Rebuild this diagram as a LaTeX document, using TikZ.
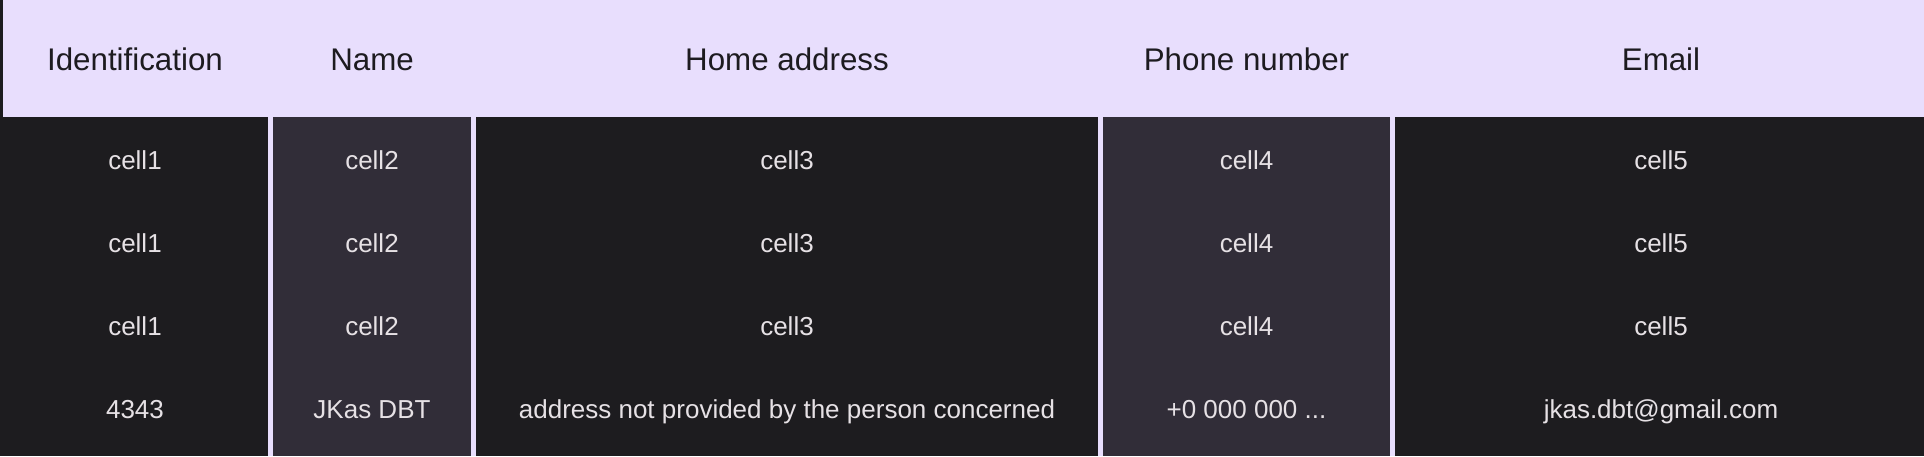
\documentclass[tikz,border=0pt]{standalone}
\usepackage{fontspec}
\setmainfont{Liberation Sans}
\definecolor{lav}{HTML}{E8DEFD}
\definecolor{darkbg}{HTML}{1D1C1F}
\definecolor{colalt}{HTML}{312D38}
\definecolor{headtxt}{HTML}{1D1B20}
\definecolor{bodytxt}{HTML}{E6E1E5}
\tikzset{
  headcell/.style={anchor=base, inner sep=0pt, text=headtxt, font=\fontsize{31.3}{36}\selectfont},
  bodycell/.style={anchor=base, inner sep=0pt, text=bodytxt, font=\fontsize{26}{30}\selectfont},
}
\begin{document}
\begin{tikzpicture}[x=1pt,y=-1pt]
\useasboundingbox (0,0) rectangle (1924,456);
% background
\fill[lav] (0,0) rectangle (1924,456);
\fill[darkbg] (0,0) rectangle (3,117);
% columns
\fill[darkbg] (0,117) rectangle (268,456);
\fill[colalt] (273,117) rectangle (471,456);
\fill[darkbg] (476,117) rectangle (1098,456);
\fill[colalt] (1103,117) rectangle (1390,456);
\fill[darkbg] (1395,117) rectangle (1924,456);
% header
\node[headcell] (h1) at (135,70.7) {Identification};
\node[headcell] (h2) at (372,70.7) {Name};
\node[headcell] (h3) at (787,70.7) {Home address};
\node[headcell] (h4) at (1246.5,70.7) {Phone number};
\node[headcell] (h5) at (1661,70.7) {Email};
% rows
\foreach \r/\y in {1/169.8,2/252.8,3/335.6}{
  \node[bodycell] (r\r c1) at (135,\y) {cell1};
  \node[bodycell] (r\r c2) at (372,\y) {cell2};
  \node[bodycell] (r\r c3) at (787,\y) {cell3};
  \node[bodycell] (r\r c4) at (1246.5,\y) {cell4};
  \node[bodycell] (r\r c5) at (1661,\y) {cell5};
}
\node[bodycell] (r4c1) at (135,418.5) {4343};
\node[bodycell] (r4c2) at (372,418.5) {JKas DBT};
\node[bodycell] (r4c3) at (787,418.5) {address not provided by the person concerned};
\node[bodycell] (r4c4) at (1246.5,418.5) {+0 000 000 ...};
\node[bodycell] (r4c5) at (1661,418.5) {jkas.dbt@gmail.com};
\end{tikzpicture}
\end{document}
